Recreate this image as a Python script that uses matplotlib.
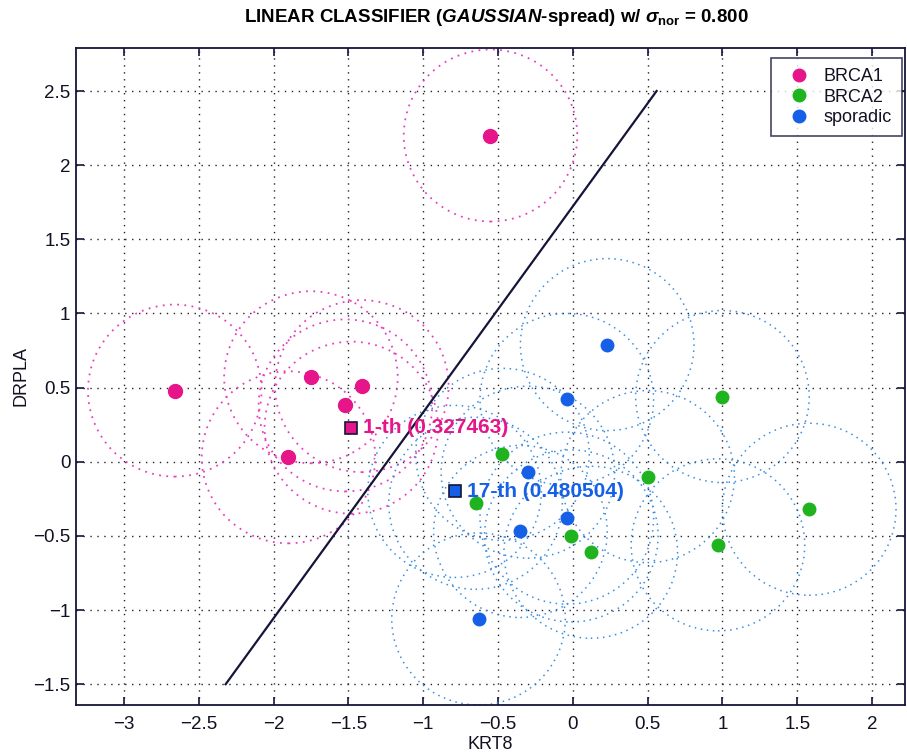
import numpy as np
import matplotlib
matplotlib.use("Agg")
import matplotlib.pyplot as plt
from matplotlib.patches import Circle
from matplotlib.lines import Line2D

plt.rcParams['font.family'] = ['Liberation Sans', 'DejaVu Sans']
plt.rcParams['mathtext.fontset'] = 'custom'
plt.rcParams['mathtext.it'] = 'Liberation Sans:italic:bold'
plt.rcParams['mathtext.rm'] = 'Liberation Sans:bold'
plt.rcParams['mathtext.bf'] = 'Liberation Sans:bold'

# ---- data ----
brca1_x = [-0.55, -2.66, -1.75, -1.41, -1.52, -1.90]
brca1_y = [2.20, 0.48, 0.57, 0.51, 0.38, 0.03]
brca2_x = [-0.47, -0.65, -0.01, 0.12, 0.50, 1.00, 0.97, 1.58]
brca2_y = [0.05, -0.28, -0.50, -0.61, -0.10, 0.44, -0.56, -0.32]
spor_x = [0.23, -0.04, -0.30, -0.04, -0.35, -0.63]
spor_y = [0.79, 0.42, -0.07, -0.38, -0.47, -1.06]
test_x = [-1.48, -0.79]
test_y = [0.23, -0.20]
test_labels = ["1-th (0.327463)", "17-th (0.480504)"]
line_x = [-2.32, 0.56]
line_y = [-1.50, 2.50]
radius = 0.58
xticks = [-3, -2.5, -2, -1.5, -1, -0.5, 0, 0.5, 1, 1.5, 2]
yticks = [-1.5, -1, -0.5, 0, 0.5, 1, 1.5, 2, 2.5]

c_mag = '#e6158a'
c_grn = '#1fb31f'
c_blu = '#1560e6'
c_cir_m = '#e83fc0'
c_cir_b = '#3a8ee0'
c_ax = '#15153a'

fig = plt.figure(figsize=(9.07, 7.52), dpi=100)
ax = fig.add_axes([76/907, 1-705/752, (905-76)/907, (705-48)/752])
ax.set_xlim(-3.32, 2.22)
ax.set_ylim(-1.64, 2.79)

# circles
for x, y in zip(brca1_x + [test_x[0]], brca1_y + [test_y[0]]):
    ax.add_patch(Circle((x, y), radius, fill=False, ls=(0, (1, 3)), lw=1.3, ec=c_cir_m, zorder=2))
for x, y in zip(brca2_x + spor_x + [test_x[1]], brca2_y + spor_y + [test_y[1]]):
    ax.add_patch(Circle((x, y), radius, fill=False, ls=(0, (1, 3)), lw=1.1, ec=c_cir_b, zorder=2))

ax.plot(line_x, line_y, color=c_ax, lw=1.6, zorder=3)

ax.plot(brca1_x, brca1_y, 'o', ms=10, color=c_mag, mec=c_mag, zorder=4)
ax.plot(brca2_x, brca2_y, 'o', ms=9, color=c_grn, mec=c_grn, zorder=4)
ax.plot(spor_x, spor_y, 'o', ms=9, color=c_blu, mec=c_blu, zorder=4)

for (x, y, lab, col) in zip(test_x, test_y, test_labels, [c_mag, c_blu]):
    ax.plot([x], [y], 's', ms=9, color=col, mec=c_ax, mew=1.2, zorder=5)
    ax.text(x + 0.08, y, lab, color=col, fontsize=15, fontweight='bold',
            va='center', ha='left', zorder=6)

ax.set_xticks(xticks)
ax.set_yticks(yticks)
ax.set_xticklabels(['\u22123', '\u22122.5', '\u22122', '\u22121.5', '\u22121', '\u22120.5', '0', '0.5', '1', '1.5', '2'])
ax.set_yticklabels(['\u22121.5', '\u22121', '\u22120.5', '0', '0.5', '1', '1.5', '2', '2.5'])
ax.grid(True, ls=(0, (1, 4)), color='#222233', lw=1.0)
ax.tick_params(direction='in', top=True, right=True, length=6, width=1.2,
               color=c_ax, labelsize=13.5, labelcolor='#111122')
ax.tick_params(axis='x', pad=8)
ax.tick_params(axis='y', pad=4)
for s in ax.spines.values():
    s.set_color(c_ax)
    s.set_linewidth(1.3)

ax.set_xlabel('KRT8', fontsize=13, color='#111122', labelpad=2)
ax.set_ylabel('DRPLA', fontsize=13, color='#111122', labelpad=3)

fig.text(496/907, 1-18/752,
         r'LINEAR CLASSIFIER ($\mathit{GAUSSIAN}$-spread) w/ $\sigma_{\mathrm{nor}}$ = 0.800',
         ha='center', va='center', fontsize=13.5, fontweight='bold')

handles = [Line2D([], [], marker='o', ls='none', ms=9, color=c, mec=c) for c in [c_mag, c_grn, c_blu]]
leg = ax.legend(handles, ['BRCA1', 'BRCA2', 'sporadic'], loc='upper right',
                bbox_to_anchor=(1.0-3/829, 1-10/657), fontsize=13, frameon=True,
                fancybox=False, edgecolor=c_ax, borderpad=0.55, handletextpad=0.4,
                labelspacing=0.2, handlelength=2.0, borderaxespad=0)
leg.get_frame().set_linewidth(1.2)
for t in leg.get_texts():
    t.set_color('#111122')

fig.savefig('out.png', dpi=100)
